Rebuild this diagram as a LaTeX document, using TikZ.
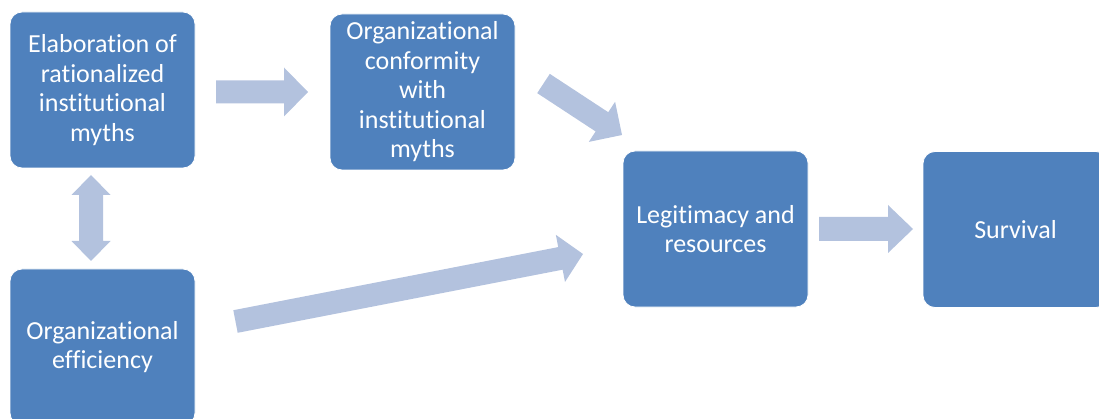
\documentclass[tikz,border=0pt]{standalone}
\usepackage{fontspec}
\setmainfont[Ligatures=NoCommon]{Carlito}
\usetikzlibrary{calc}
\definecolor{boxblue}{HTML}{4F81BD}
\definecolor{arrowblue}{HTML}{B3C2DE}
% #1 start, #2 end, #3 shaft half width, #4 head half width, #5 head length
\newcommand\blockarrow[5]{%
  \coordinate (ba-h) at ($(#2)!#5!(#1)$);
  \fill[arrowfill] ($(#1)!#3!90:(#2)$) -- ($(ba-h)!#3!90:(#2)$) -- ($(ba-h)!#4!90:(#2)$)
    -- (#2) -- ($(ba-h)!#4!-90:(#2)$) -- ($(ba-h)!#3!-90:(#2)$) -- ($(#1)!#3!-90:(#2)$) -- cycle;
}
% double-headed block arrow
\newcommand\doubleblockarrow[5]{%
  \coordinate (ba-h) at ($(#2)!#5!(#1)$);
  \coordinate (ba-g) at ($(#1)!#5!(#2)$);
  \fill[arrowfill] (#1) -- ($(ba-g)!#4!90:(#2)$) -- ($(ba-g)!#3!90:(#2)$) -- ($(ba-h)!#3!90:(#2)$) -- ($(ba-h)!#4!90:(#2)$)
    -- (#2) -- ($(ba-h)!#4!-90:(#2)$) -- ($(ba-h)!#3!-90:(#2)$) -- ($(ba-g)!#3!-90:(#2)$) -- ($(ba-g)!#4!-90:(#2)$) -- cycle;
}
\begin{document}
\begin{tikzpicture}[x=1pt,y=-1pt,
  box/.style={draw=white, line width=0.8pt, fill=boxblue, rounded corners=12pt,
    minimum width=185pt, minimum height=156pt, inner sep=0pt, text=white,
    align=center, font=\fontsize{26}{29.5}\selectfont},
  arrowfill/.style={fill=arrowblue}]
\useasboundingbox (0,0) rectangle (1099,419);
\clip (0,0) rectangle (1099,419);

\node[box] (elab) at (102.5,90) {Elaboration of\\rationalized\\institutional\\myths};
\node[box] (conf) at (422.5,92) {Organizational\\conformity\\with\\institutional\\myths};
\node[box] (legit) at (715.5,229) {Legitimacy and\\resources};
\node[box] (surv) at (1015.5,229.5) {Survival};
\node[box] (eff) at (102.5,347) {Organizational\\efficiency};

\coordinate (a1s) at (216,92);   \coordinate (a1e) at (308,92);
\coordinate (a2s) at (543.5,83.5); \coordinate (a2e) at (622,135);
\coordinate (a3s) at (235.5,321.5); \coordinate (a3e) at (583,254);
\coordinate (a4s) at (819,229);  \coordinate (a4e) at (913,229);
\coordinate (d1) at (91,175);    \coordinate (d2) at (91,261);

\blockarrow{a1s}{a1e}{11.5pt}{24.5pt}{24pt}
\blockarrow{a2s}{a2e}{11.5pt}{24pt}{24pt}
\blockarrow{a3s}{a3e}{11.5pt}{24pt}{23pt}
\blockarrow{a4s}{a4e}{12pt}{24pt}{25pt}
\doubleblockarrow{d1}{d2}{12pt}{19.5pt}{20pt}
\end{tikzpicture}
\end{document}
